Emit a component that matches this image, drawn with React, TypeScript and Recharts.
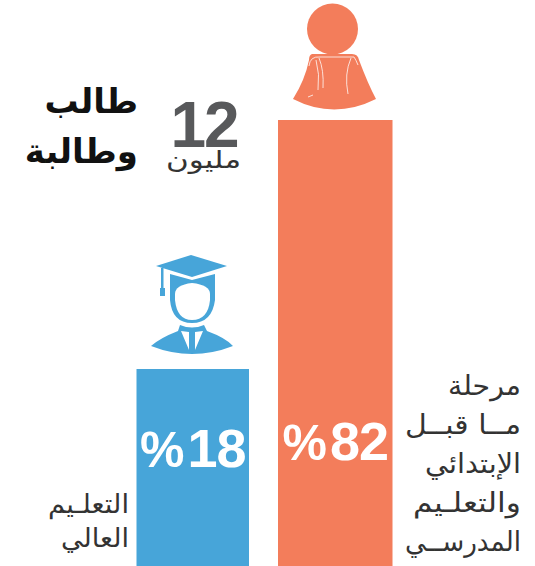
import { Bar, BarChart, Cell, LabelList, Rectangle, XAxis, YAxis } from 'recharts'

const categories = ['التعليم العالي', 'مرحلة ما قبل الإبتدائي والتعليم المدرسي']
const shares = [18, 82]
const shareLabels = ['%18', '%82']
const barColors = ['#47a5d9', '#f37d5b']
const preSchoolLines = ['مرحلة', 'مــا قبــل', 'الإبتدائي', 'والتعلـيم', 'المدرســي']
const higherEdLines = ['التعلـيم', 'العالي']

// the source bars are not drawn from zero, so the axis floor sits below it
const axisFloor = -32.6
const axisTop = 112.8

const data = categories.map((name, i) => ({
  name,
  range: [axisFloor, shares[i]],
  label: shareLabels[i],
}))

const barWidths = [112.5, 114.5]
const labelBaselines = [467, 460]
const preSchoolWidths = [73, 116, 96, 108, 116]
const higherEdWidths = [81, 68]
const arabic = '"DejaVu Sans", sans-serif'
const latin = '"Liberation Sans", Arial, sans-serif'

function SizedBar(props: any) {
  const width = barWidths[props.index]
  return (
    <Rectangle
      x={props.x + props.width / 2 - width / 2}
      y={props.y}
      width={width}
      height={props.height}
      fill={props.fill}
    />
  )
}

function ShareLabel(props: any) {
  const { x, width, value, index } = props
  return (
    <text
      x={x + width / 2}
      y={labelBaselines[index]}
      textAnchor="middle"
      fill="#fff"
      fontFamily={latin}
      fontWeight={700}
      fontSize={54}
    >
      <tspan fontSize={50}>{value.slice(0, 1)}</tspan>
      <tspan dx={3} letterSpacing={-1}>
        {value.slice(1)}
      </tspan>
    </text>
  )
}

function GirlIcon() {
  return (
    <g>
      <circle cx={332.5} cy={29} r={25.5} fill="#f37d5b" />
      <path
        d="M312 54 L352 54 Q358 54 359 60 Q368 84 376 99 Q334 120 293 99 Q305 80 309 60 Q309 55 312 54 Z"
        fill="#f37d5b"
      />
      <path
        d="M309 66 Q310 56 320 57 L354 57 Q356 60 358 65 M319 58 Q324 70 323 88 M316 60 Q320 74 318 90 M351 58 Q344 74 348 94 M308 97 L313 95"
        fill="none"
        stroke="#fff"
        strokeWidth={0.9}
        opacity={0.85}
      />
    </g>
  )
}

function GraduateIcon() {
  return (
    <g fill="#47a5d9">
      <path d="M156 266 L191 255 L227 266 L192 277 Z" />
      <rect x={161} y={268} width={2.5} height={22} />
      <rect x={160} y={288} width={5} height={8} />
      <path d="M170 274 L192 280 L215 274 L215 300 Q212 323 192 323 Q172 323 170 300 Z" />
      <path
        d="M175 294 Q175 285 192 283 Q210 285 210 294 L210 300 Q208 320 192 320 Q177 320 175 300 Z"
        fill="#fff"
      />
      <path d="M180 325 Q192 330 204 325 L207 331 Q226 338 233 346 Q192 362 151 346 Q160 338 178 331 Z" />
      <path d="M181 331 L189 332 L189 350 Z M203 331 L195 332 L195 350 Z" fill="#fff" />
    </g>
  )
}

function App() {
  return (
    <div style={{ position: 'absolute', left: 0, top: 0 }}>
      <BarChart
        width={535}
        height={566}
        data={data}
        barCategoryGap={0}
        barSize={114}
        margin={{ top: 0, right: 128.25, bottom: 0, left: 121.75 }}
      >
        <XAxis dataKey="name" hide />
        <YAxis hide domain={[axisFloor, axisTop]} allowDataOverflow />
        <Bar dataKey="range" isAnimationActive={false} shape={SizedBar}>
          {data.map((d, i) => (
            <Cell key={d.name} fill={barColors[i]} />
          ))}
          <LabelList dataKey="label" content={ShareLabel} />
        </Bar>

        <GirlIcon />
        <GraduateIcon />

        <text x={204} y={147} textAnchor="middle" fill="#58595b" fontFamily={latin} fontWeight={700} fontSize={64} letterSpacing={-2}>
          12
        </text>
        <text x={241} y={168} textAnchor="end" textLength={75} lengthAdjust="spacingAndGlyphs" fill="#333" fontFamily={arabic} fontSize={24}>
          مليون
        </text>
        <text x={138} y={113} textAnchor="end" fill="#111" fontFamily={arabic} fontWeight={700} fontSize={34}>
          طالب
        </text>
        <text x={138} y={163} textAnchor="end" fill="#111" fontFamily={arabic} fontWeight={700} fontSize={34}>
          وطالبة
        </text>

        {preSchoolLines.map((line, i) => (
          <text
            key={line}
            x={521}
            y={395 + i * 39}
            textAnchor="end"
            textLength={preSchoolWidths[i]}
            lengthAdjust="spacingAndGlyphs"
            fill="#333"
            fontFamily={arabic}
            fontSize={27}
          >
            {line}
          </text>
        ))}
        {higherEdLines.map((line, i) => (
          <text
            key={line}
            x={129}
            y={513 + i * 34}
            textAnchor="end"
            textLength={higherEdWidths[i]}
            lengthAdjust="spacingAndGlyphs"
            fill="#333"
            fontFamily={arabic}
            fontSize={26}
          >
            {line}
          </text>
        ))}
      </BarChart>
    </div>
  )
}

export default App
